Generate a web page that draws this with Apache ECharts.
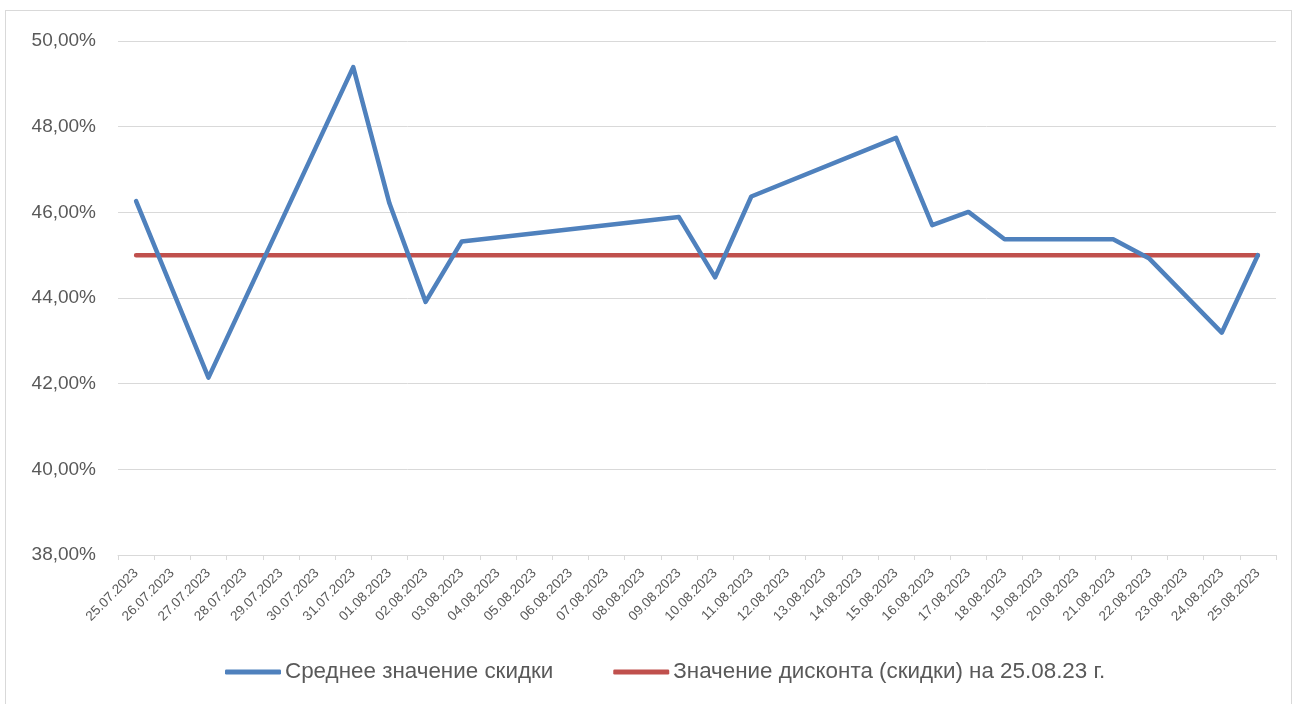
<!DOCTYPE html>
<html>
<head>
<meta charset="utf-8">
<script src="https://cdn.jsdelivr.net/npm/echarts@6/dist/echarts.min.js"></script>
<style>
    html, body { margin: 0; padding: 0; background: #fff; }
    #frame {
        position: absolute; left: 5px; top: 10px;
        width: 1285px; height: 720px;
        border: 1px solid #d9d9d9;
    }
    #chart { position: absolute; left: 0; top: 0; width: 1296px; height: 704px; }
</style>
</head>
<body>
<div id="frame"></div>
<div id="chart"></div>
<script>
// Dates on the x axis
const dates = [
    '25.07.2023', '26.07.2023', '27.07.2023', '28.07.2023', '29.07.2023', '30.07.2023',
    '31.07.2023', '01.08.2023', '02.08.2023', '03.08.2023', '04.08.2023', '05.08.2023',
    '06.08.2023', '07.08.2023', '08.08.2023', '09.08.2023', '10.08.2023', '11.08.2023',
    '12.08.2023', '13.08.2023', '14.08.2023', '15.08.2023', '16.08.2023', '17.08.2023',
    '18.08.2023', '19.08.2023', '20.08.2023', '21.08.2023', '22.08.2023', '23.08.2023',
    '24.08.2023', '25.08.2023'
]

// Average discount, % (null = no value for that day, line is connected)
const avgDiscount = [
    46.26, null, 42.14, null, null, null,
    49.39, 46.21, 43.91, 45.32, null, null,
    null, null, null, 45.89, 44.48, 46.37,
    null, null, null, 47.74, 45.70, 46.01,
    45.37, null, null, 45.37, 44.92, null,
    43.19, 45.00
]

// Discount value on 25.08.23, %
const discountOnDate = dates.map(() => 45.0)

const seriesNames = ['Среднее значение скидки', 'Значение дисконта (скидки) на 25.08.23 г.']

const chartInstance = echarts.init(document.getElementById('chart'))

const labelColor = '#595959'
const lineGray = '#d9d9d9'
const font = '"Liberation Sans", Arial, sans-serif'

const option = {
    animation: false,
    textStyle: { fontFamily: font },
    grid: {
        left: 118,
        right: 20,
        top: 41,
        bottom: 149
    },
    legend: {
        bottom: 16,
        left: 220,
        itemWidth: 56,
        itemHeight: 5,
        itemGap: 60,
        icon: 'roundRect',
        textStyle: { fontSize: 22.4, color: labelColor, fontFamily: font, padding: [0, 0, 0, -1] },
        data: seriesNames
    },
    xAxis: {
        type: 'category',
        data: dates,
        boundaryGap: true,
        axisLine: { lineStyle: { color: lineGray, width: 1 } },
        axisTick: { show: true, alignWithLabel: false, length: 5, lineStyle: { color: lineGray } },
        axisLabel: {
            interval: 0,
            rotate: 45,
            fontSize: 13.5,
            color: labelColor,
            margin: 16
        },
        splitLine: { show: false }
    },
    yAxis: {
        type: 'value',
        min: 38,
        max: 50,
        interval: 2,
        axisLine: { show: false },
        axisTick: { show: false },
        axisLabel: {
            fontSize: 19,
            color: labelColor,
            margin: 22,
            formatter: v => v.toFixed(2).replace('.', ',') + '%'
        },
        splitLine: { lineStyle: { color: lineGray, width: 1 } }
    },
    series: [
        {
            name: seriesNames[0],
            type: 'line',
            data: avgDiscount,
            connectNulls: true,
            symbol: 'none',
            lineStyle: { color: '#4f81bd', width: 4.5, cap: 'round', join: 'round' },
            itemStyle: { color: '#4f81bd' },
            z: 3
        },
        {
            name: seriesNames[1],
            type: 'line',
            data: discountOnDate,
            symbol: 'none',
            lineStyle: { color: '#c0504d', width: 4.5, cap: 'round' },
            itemStyle: { color: '#c0504d' },
            z: 2
        }
    ]
}

chartInstance.setOption(option)
</script>
</body>
</html>
